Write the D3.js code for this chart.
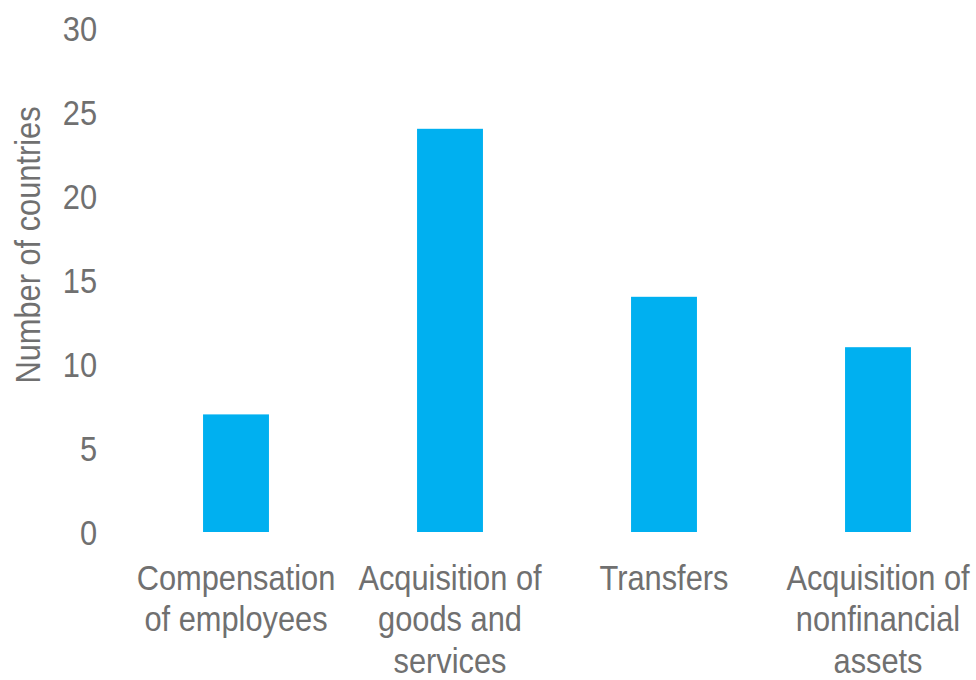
<!DOCTYPE html>
<html>
<head>
<meta charset="utf-8">
<script src="https://cdn.jsdelivr.net/npm/d3@7"></script>
<style>
  html, body { margin: 0; padding: 0; background: #ffffff; }
  svg { display: block; }
  text { font-family: "Liberation Sans", Arial, sans-serif; fill: #707070; }
</style>
</head>
<body>
<svg id="chart" width="976" height="680"></svg>
<script>
// Number of countries by spending category
const categories = [
  ["Compensation", "of employees"],
  ["Acquisition of", "goods and", "services"],
  ["Transfers"],
  ["Acquisition of", "nonfinancial", "assets"]
];
const categoryKeys = ["Compensation of employees", "Acquisition of goods and services", "Transfers", "Acquisition of nonfinancial assets"];
const counts = [7, 24, 14, 11];
const yTicks = [0, 5, 10, 15, 20, 25, 30];
const yTitle = "Number of countries";

const svg = d3.select("#chart");
const fontSize = 35;
const squeeze = 0.88; // condensed text look

const x = d3.scaleBand()
  .domain(categoryKeys)
  .range([129, 985])
  .paddingInner(0.692)
  .paddingOuter(0.346);

const y = d3.scaleLinear()
  .domain([0, 30])
  .range([532, 28]);

// Bars
svg.append("g")
  .selectAll("rect")
  .data(counts)
  .join("rect")
  .attr("x", (d, i) => x(categoryKeys[i]))
  .attr("y", d => y(d))
  .attr("width", x.bandwidth())
  .attr("height", d => y(0) - y(d))
  .attr("fill", "#00B0F0");

// Y axis (labels only)
const yAxis = svg.append("g")
  .attr("transform", "translate(97,0)")
  .call(d3.axisLeft(y).tickValues(yTicks).tickSize(0).tickPadding(0));
yAxis.select(".domain").remove();
yAxis.selectAll("text")
  .attr("x", 0)
  .attr("dy", "0.36em")
  .attr("transform", `scale(${squeeze},1)`)
  .style("font-size", fontSize + "px")
  .style("font-family", "'Liberation Sans', Arial, sans-serif")
  .attr("fill", "#707070");

// Category labels
const lineGap = 41.5;
const labels = svg.append("g");
categories.forEach((lines, i) => {
  const cx = x(categoryKeys[i]) + x.bandwidth() / 2;
  const t = labels.append("text")
    .attr("transform", `translate(${cx},590) scale(${squeeze},1)`)
    .attr("text-anchor", "middle")
    .style("font-size", fontSize + "px");
  lines.forEach((ln, j) => {
    t.append("tspan").attr("x", 0).attr("y", j * lineGap).text(ln);
  });
});

// Y axis title
svg.append("text")
  .attr("transform", `translate(40,245) rotate(-90) scale(${squeeze},1)`)
  .attr("text-anchor", "middle")
  .style("font-size", fontSize + "px")
  .text(yTitle);
</script>
</body>
</html>
